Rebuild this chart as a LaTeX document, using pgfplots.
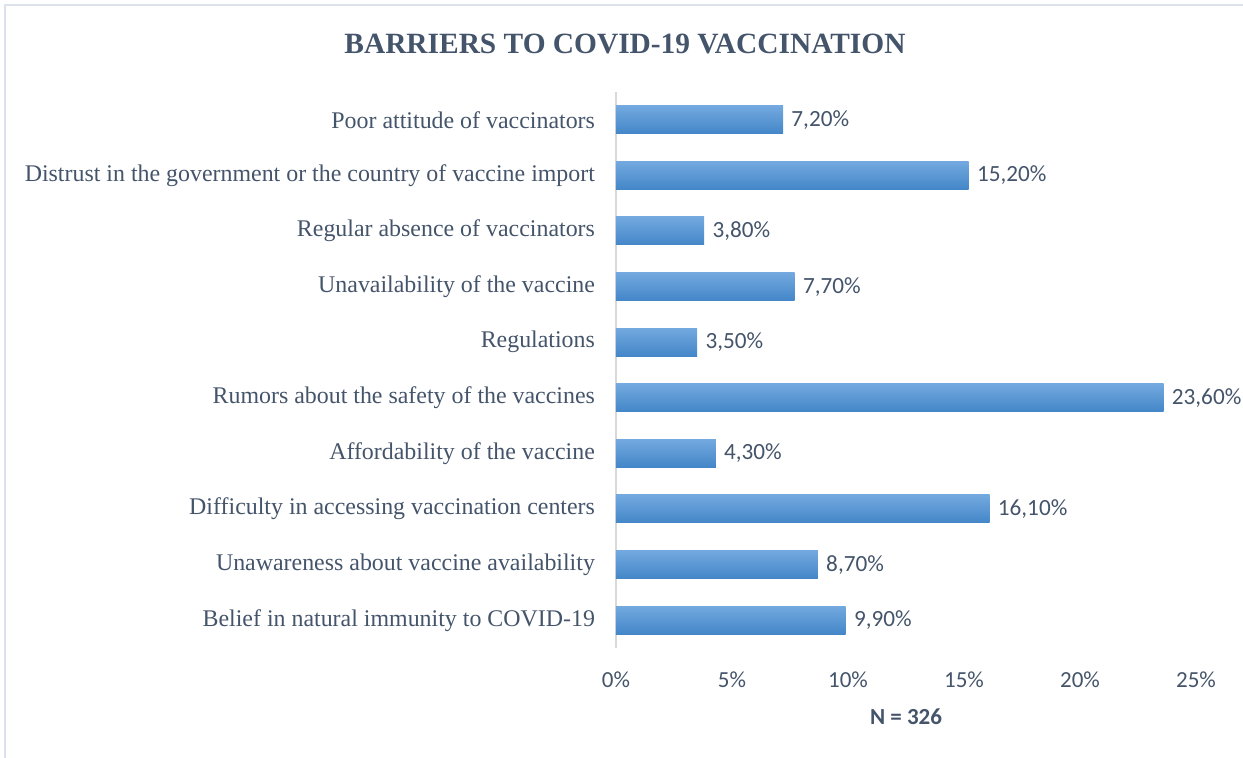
\documentclass[border=0pt]{standalone}
\usepackage{fontspec}
\setmainfont{Liberation Serif}
\newfontfamily\calibri{Carlito}
\usepackage{pgfplots}
\pgfplotsset{compat=1.18}
\definecolor{txt}{HTML}{44546A}
\definecolor{bartop}{HTML}{73A9DF}
\definecolor{barbot}{HTML}{4386C8}
\definecolor{frame}{HTML}{DDE2EA}
\definecolor{axln}{HTML}{D9D9D9}
\pgfplotsset{gbar/.style={draw=none, top color=bartop, bottom color=barbot, bar shift=0pt}}
\begin{document}
\begin{tikzpicture}[x=1pt,y=1pt]
\draw[frame, line width=1.2pt] (2.5,0) -- (2.5,376.5) -- (621.5,376.5);
\node[text=txt, font=\fontsize{14.7}{17}\selectfont\bfseries] at (312.5,357) {BARRIERS TO COVID-19 VACCINATION};
\begin{axis}[
  at={(308pt,55pt)}, anchor=south west,
  scale only axis, width=290pt, height=278pt,
  xmin=0, xmax=25, ymin=-0.5, ymax=9.5,
  xbar, bar width=14pt,
  /pgf/number format/assume math mode=true,
  axis lines*=left,
  x axis line style={draw=none},
  y axis line style={draw=axln, line width=0.8pt},
  major tick length=0pt,
  xtick={0,5,10,15,20,25},
  xticklabel={\pgfmathprintnumber{\tick}\%},
  xticklabel style={font=\calibri\fontsize{11.5}{13}\selectfont, text=txt, yshift=-8.5pt},
  ytick={0,...,9},
  yticklabels={Belief in natural immunity to COVID-19,
    Unawareness about vaccine availability,
    Difficulty in accessing vaccination centers,
    Affordability of the vaccine,
    Rumors about the safety of the vaccines,
    Regulations,
    Unavailability of the vaccine,
    Regular absence of vaccinators,
    Distrust in the government or the country of vaccine import,
    Poor attitude of vaccinators},
  yticklabel style={font=\fontsize{11.95}{14}\selectfont, text=txt, xshift=-7pt},
  nodes near coords={\pgfmathprintnumber[fixed, fixed zerofill, precision=2, use comma]{\pgfplotspointmeta}\%},
  nodes near coords style={font=\calibri\fontsize{11.6}{13}\selectfont, text=txt, anchor=west, inner sep=4pt},
  xlabel={\calibri\bfseries N = 326},
  xlabel style={font=\fontsize{11.5}{13}\selectfont, text=txt, yshift=-3.5pt},
  clip=false,
]
\addplot[gbar] coordinates {(9.9,0)};
\addplot[gbar] coordinates {(8.7,1)};
\addplot[gbar] coordinates {(16.1,2)};
\addplot[gbar] coordinates {(4.3,3)};
\addplot[gbar] coordinates {(23.6,4)};
\addplot[gbar] coordinates {(3.5,5)};
\addplot[gbar] coordinates {(7.7,6)};
\addplot[gbar] coordinates {(3.8,7)};
\addplot[gbar] coordinates {(15.2,8)};
\addplot[gbar] coordinates {(7.2,9)};
\end{axis}
\pgfresetboundingbox
\path[use as bounding box] (0,0) rectangle (621.5,379);
\end{tikzpicture}
\end{document}
